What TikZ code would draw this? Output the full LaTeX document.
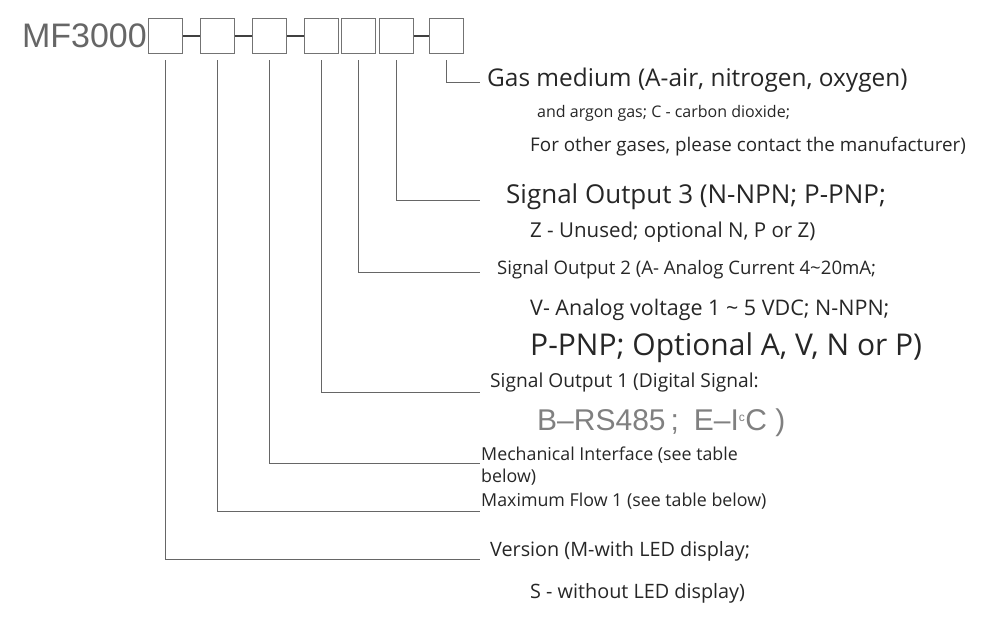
\documentclass[tikz,border=0pt]{standalone}
\usepackage{fontspec}
\setmainfont{Open Sans}
\newfontfamily\arialf{Liberation Sans}
\begin{document}
\begin{tikzpicture}[x=1pt,y=-1pt,
  box/.style={draw=black!55,line width=1.2pt,minimum width=34pt,minimum height=35pt,inner sep=0,anchor=north west},
  lead/.style={draw=black!60,line width=0.9pt},
  joiner/.style={draw=black!75,line width=1.6pt},
  lbl/.style={anchor=west,inner sep=0,text=black!85}]
\useasboundingbox (0,0) rectangle (981,628);
\node[anchor=east,inner sep=0,text=black!60,font=\arialf\fontsize{34}{34}\selectfont] (mf) at (147,36) {MF3000};
\node[box] (b1) at (148,18) {};
\node[box] (b2) at (200,18) {};
\node[box] (b3) at (252,18) {};
\node[box] (b4) at (304,18) {};
\node[box] (b5) at (341,18) {};
\node[box] (b6) at (379,18) {};
\node[box] (b7) at (429,18) {};
\draw[joiner] (b1.east) -- (b2.west);
\draw[joiner] (b2.east) -- (b3.west);
\draw[joiner] (b3.east) -- (b4.west);
\draw[joiner] (b6.east) -- (b7.west);
\coordinate (e7) at (480,82);
\coordinate (e6) at (480,200);
\coordinate (e5) at (480,272);
\coordinate (e4) at (480,392);
\coordinate (e3) at (480,463);
\coordinate (e2) at (480,511);
\coordinate (e1) at (480,559);
\foreach \i in {1,...,7} \draw[lead] ([yshift=-6pt]b\i.south) |- (e\i);
\node[lbl,font=\fontsize{24.4}{24.4}\selectfont] (t7a) at (487,80) {Gas medium (A-air, nitrogen, oxygen)};
\node[lbl,font=\fontsize{16}{16}\selectfont] (t7b) at (537,113) {and argon gas; C - carbon dioxide;};
\node[lbl,font=\fontsize{18.8}{18.8}\selectfont] (t7c) at (530,147) {For other gases, please contact the manufacturer)};
\node[lbl,font=\fontsize{26}{26}\selectfont] (t6a) at (506,197) {Signal Output 3 (N-NPN; P-PNP;};
\node[lbl,font=\fontsize{20.5}{20.5}\selectfont] (t6b) at (530,232) {Z - Unused; optional N, P or Z)};
\node[lbl,font=\fontsize{18.6}{18.6}\selectfont] (t5a) at (497,270) {Signal Output 2 (A- Analog Current 4\textasciitilde 20mA;};
\node[lbl,font=\fontsize{21.5}{21.5}\selectfont] (t5b) at (530,310) {V- Analog voltage 1 \textasciitilde{} 5 VDC; N-NPN;};
\node[lbl,font=\fontsize{30}{30}\selectfont] (t5c) at (530,348) {P-PNP; Optional A, V, N or P)};
\node[lbl,font=\fontsize{19.2}{19.2}\selectfont] (t4a) at (490,383) {Signal Output 1 (Digital Signal:};
\node[lbl,text=black!50,font=\arialf\fontsize{30}{30}\selectfont] (t4b) at (537,423) {B–RS485\,;\enspace E–I\textsuperscript{\fontsize{12}{12}\selectfont c}C )};
\node[lbl,font=\fontsize{17.8}{17.8}\selectfont] (t3a) at (481,455) {Mechanical Interface (see table};
\node[lbl,font=\fontsize{17.8}{17.8}\selectfont] (t3b) at (481,477) {below)};
\node[lbl,font=\fontsize{17.8}{17.8}\selectfont] (t2) at (481,501) {Maximum Flow 1 (see table below)};
\node[lbl,font=\fontsize{19.8}{19.8}\selectfont] (t1a) at (490,551) {Version (M-with LED display;};
\node[lbl,font=\fontsize{19.8}{19.8}\selectfont] (t1b) at (530,593) {S - without LED display)};
\end{tikzpicture}
\end{document}
